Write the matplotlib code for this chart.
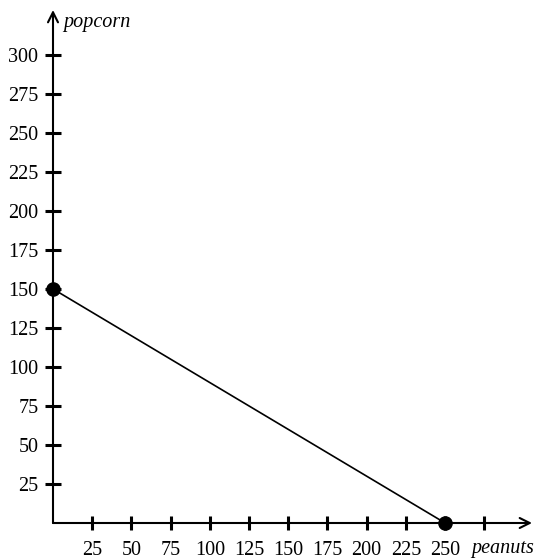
import matplotlib
matplotlib.use("Agg")
import matplotlib.pyplot as plt

peanuts = [0, 250]
popcorn = [150, 0]
x_ticks = [25, 50, 75, 100, 125, 150, 175, 200, 225, 250, 275]
x_tick_labels = ["25", "50", "75", "100", "125", "150", "175", "200", "225", "250", ""]
y_ticks = [25, 50, 75, 100, 125, 150, 175, 200, 225, 250, 275, 300]
y_tick_labels = [str(v) for v in y_ticks]

plt.rcParams['font.family'] = ['Liberation Serif', 'DejaVu Serif']

fig = plt.figure(figsize=(5.35, 5.6), dpi=100)
ax = fig.add_axes([53/535, 37/560, 479/535, 513/560])
ax.set_xlim(0, 305.4)
ax.set_ylim(0, 328.8)
for s in ax.spines.values():
    s.set_visible(False)

# axes with arrows
ax.annotate("", xy=(1, 0), xytext=(0, 0), xycoords='axes fraction',
            arrowprops=dict(arrowstyle='->', lw=1.5, color='black', mutation_scale=18,
                            shrinkA=0, shrinkB=0), annotation_clip=False)
ax.annotate("", xy=(0, 1), xytext=(0, 0), xycoords='axes fraction',
            arrowprops=dict(arrowstyle='->', lw=1.5, color='black', mutation_scale=18,
                            shrinkA=0, shrinkB=0), annotation_clip=False)

ax.set_xticks(x_ticks)
ax.set_xticklabels(x_tick_labels)
ax.set_yticks(y_ticks)
ax.set_yticklabels(y_tick_labels)
ax.tick_params(axis='x', direction='inout', length=10, width=2.2, pad=8, labelsize=14.5)
ax.tick_params(axis='y', direction='inout', length=11, width=2.2, pad=5, labelsize=14.5)

ax.plot(peanuts, popcorn, color='black', lw=1.2, marker='o', markersize=9.5,
        clip_on=False, zorder=5)

ax.text(0.022, 0.975, "popcorn", transform=ax.transAxes, fontsize=14.5,
        style='italic', ha='left', va='center')
ax.text(0.874, -0.05, "peanuts", transform=ax.transAxes, fontsize=14.5,
        style='italic', ha='left', va='center')

fig.savefig("out.png", dpi=100)
